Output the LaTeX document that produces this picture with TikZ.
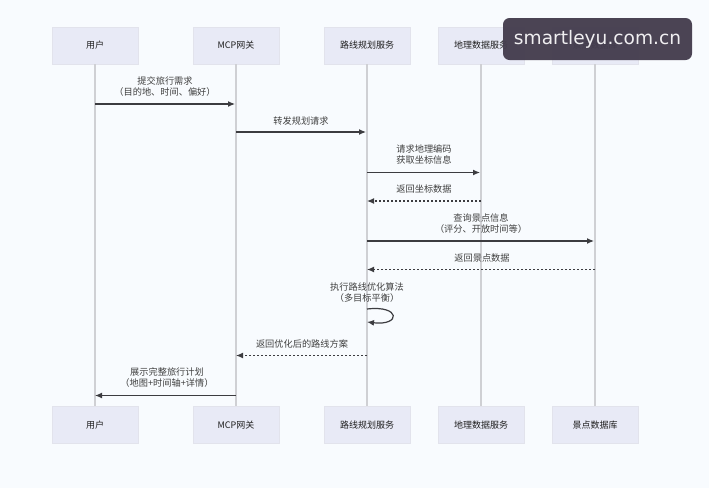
\documentclass[tikz,border=0pt]{standalone}
\usepackage{fontspec}
\setmainfont{Noto Sans CJK SC}
\newfontfamily\markfont{DejaVu Sans}
\usetikzlibrary{arrows.meta}
\definecolor{pagebg}{HTML}{F8FBFE}
\definecolor{boxfill}{HTML}{E8EAF6}
\definecolor{boxline}{HTML}{E2E3EC}
\definecolor{lifecol}{HTML}{CFD0D4}
\definecolor{msgcol}{HTML}{3C3C40}
\definecolor{markcol}{HTML}{443D4E}
\tikzset{
    actor/.style={draw=boxline,fill=boxfill,minimum width=86pt,minimum height=37pt,inner sep=0,anchor=center,text=black!88,font=\fontsize{9}{10}\selectfont},
    life/.style={draw=lifecol,line width=1.2pt},
    msg/.style={draw=msgcol,line width=1.2pt,-{Latex[length=7pt,width=6pt]}},
    back/.style={msg,dash pattern=on 2pt off 2pt},
    lab/.style={align=center,inner sep=0,anchor=center,text=black!75,font=\fontsize{9.2}{11}\selectfont}
}
\begin{document}
\begin{tikzpicture}[x=1pt,y=-1pt]
    \fill[pagebg] (0,0) rectangle (709,488);
    \useasboundingbox (0,0) rectangle (709,488);
    % top row
    \node[actor] (userT) at (95,45.5) {用户};
    \node[actor] (gateT) at (236,45.5) {MCP网关};
    \node[actor] (routeT) at (367,45.5) {路线规划服务};
    \node[actor] (geoT) at (481,45.5) {地理数据服务};
    \node[actor] (sceneT) at (595,45.5) {景点数据库};
    % bottom row
    \node[actor] (userB) at (95,425) {用户};
    \node[actor] (gateB) at (236,425) {MCP网关};
    \node[actor] (routeB) at (367,425) {路线规划服务};
    \node[actor] (geoB) at (481,425) {地理数据服务};
    \node[actor] (sceneB) at (595,425) {景点数据库};
    % lifelines
    \draw[life] (userT) -- (userB);
    \draw[life] (gateT) -- (gateB);
    \draw[life] (routeT) -- (routeB);
    \draw[life] (geoT) -- (geoB);
    \draw[life] (sceneT) -- (sceneB);
    % message ends
    \coordinate (m1a) at (95,104);
    \coordinate (m1b) at (235,104);
    \coordinate (m2a) at (236,132);
    \coordinate (m2b) at (366,132);
    \coordinate (m3a) at (367,172.5);
    \coordinate (m3b) at (480,172.5);
    \coordinate (m4a) at (481,201);
    \coordinate (m4b) at (367,201);
    \coordinate (m5a) at (367,241);
    \coordinate (m5b) at (594,241);
    \coordinate (m6a) at (595,269.5);
    \coordinate (m6b) at (367,269.5);
    \coordinate (m7a) at (367,309);
    \coordinate (m7b) at (367,322);
    \coordinate (m8a) at (367,355.5);
    \coordinate (m8b) at (236,355.5);
    \coordinate (m9a) at (236,395.5);
    \coordinate (m9b) at (95,395.5);
    % messages
    \draw[msg] (m1a) -- (m1b);
    \draw[msg] (m2a) -- (m2b);
    \draw[msg] (m3a) -- (m3b);
    \draw[back] (m4a) -- (m4b);
    \draw[msg] (m5a) -- (m5b);
    \draw[back] (m6a) -- (m6b);
    \draw[msg] (m7a) .. controls (401,305) and (401,326) .. (m7b);
    \draw[back] (m8a) -- (m8b);
    \draw[msg] (m9a) -- (m9b);
    % labels
    \node[lab] (t1) at (165,86.5) {提交旅行需求\\（目的地、时间、偏好）};
    \node[lab] (t2) at (301,121) {转发规划请求};
    \node[lab] (t3) at (424,154.5) {请求地理编码\\获取坐标信息};
    \node[lab] (t4) at (424,189) {返回坐标数据};
    \node[lab] (t5) at (481,223.5) {查询景点信息\\（评分、开放时间等）};
    \node[lab] (t6) at (482,258) {返回景点数据};
    \node[lab] (t7) at (367,292.5) {执行路线优化算法\\（多目标平衡）};
    \node[lab] (t8) at (302,344) {返回优化后的路线方案};
    \node[lab] (t9) at (167,377.5) {展示完整旅行计划\\（地图+时间轴+详情）};
    % watermark over the top row
    \node[fill=markcol,fill opacity=.96,text opacity=1,text=white!92!markcol,rounded corners=6.5pt,minimum width=189pt,minimum height=42pt,inner sep=0,anchor=center,font=\markfont\fontsize{18.6}{20}\selectfont] (mark) at (597.5,39) {smartleyu.com.cn};
\end{tikzpicture}
\end{document}
